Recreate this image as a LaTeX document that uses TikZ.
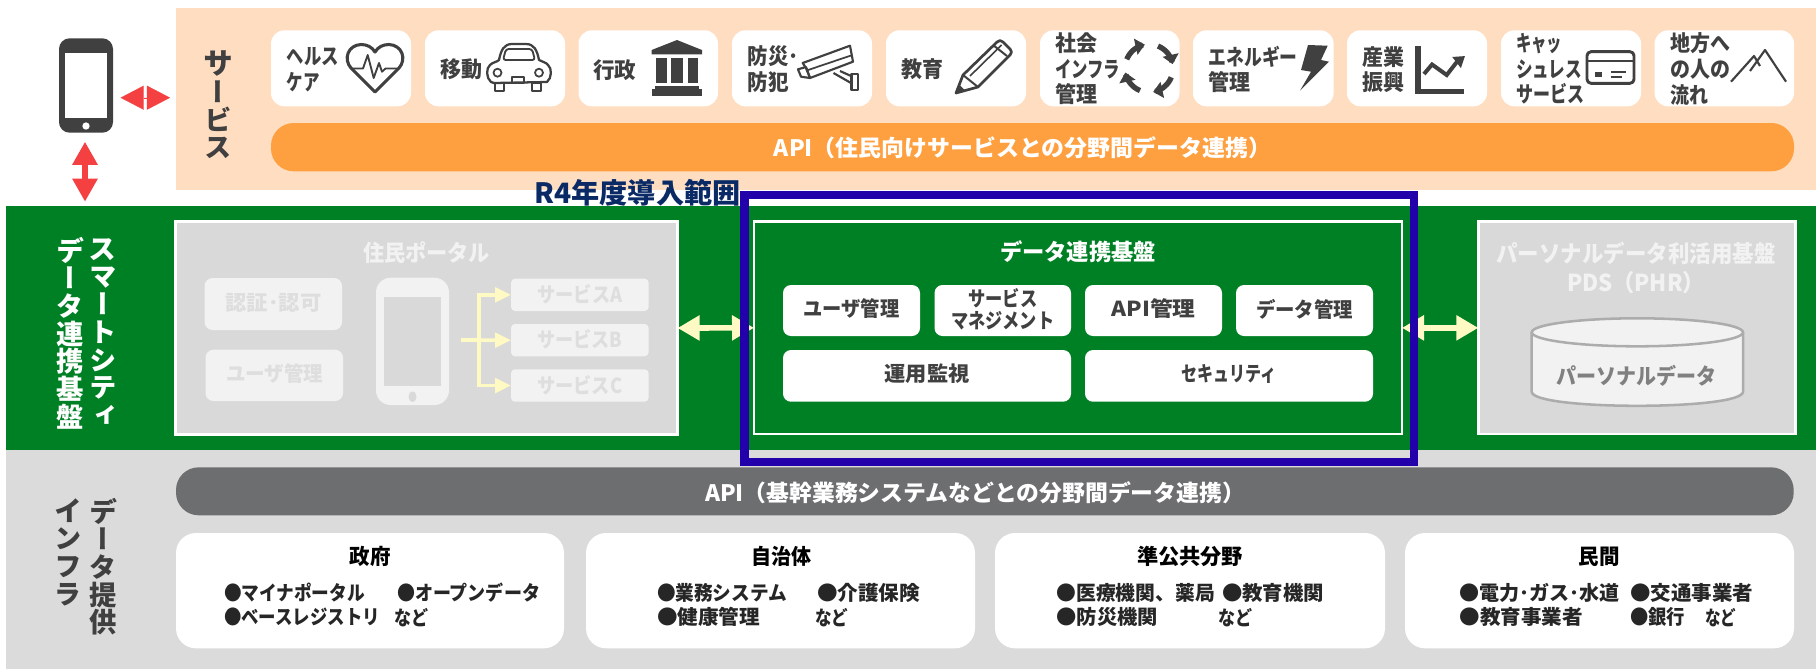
\documentclass[tikz,border=0pt]{standalone}
\usepackage{fontspec}
\setmainfont{Noto Sans CJK JP}
\newfontfamily\jpv{Noto Sans CJK JP}[RawFeature=+vert]
\usetikzlibrary{arrows.meta,shapes.geometric}
\newlength\px \setlength\px{0.75pt}
\newcommand\fw[2]{\resizebox{#1\px}{\height}{#2}}
% name, style, x1,y1,x2,y2, text
\newcommand\bx[7]{\node[#2,minimum width={(#5-#3)*0.75pt},minimum height={(#6-#4)*0.75pt}] (#1) at ({(#3+#5)/2},{(#4+#6)/2}) {#7};}
\newcommand\itm[5]{\node[itemt] (#1) at (#2,#3) {\fw{#4}{#5}};}
\definecolor{peach}{HTML}{FFDDC1}
\definecolor{orangebar}{HTML}{FFA040}
\definecolor{dgreen}{HTML}{008024}
\definecolor{gpanel}{HTML}{D9D9D9}
\definecolor{gband}{HTML}{DBDBDB}
\definecolor{gbar}{HTML}{6D6E70}
\definecolor{frameblue}{HTML}{2200AA}
\definecolor{navy}{HTML}{0A2A66}
\definecolor{redarrow}{HTML}{F44040}
\definecolor{ylw}{HTML}{FFF9C4}
\definecolor{ink}{HTML}{404040}
\definecolor{pale}{HTML}{F2F2F2}
\definecolor{paletxt}{HTML}{DEDEDE}
\tikzset{
  base/.style={inner sep=0pt,outer sep=0pt},
  band/.style={base,fill=#1},
  card/.style={base,fill=white,rounded corners=10pt},
  pillbar/.style={base,fill=#1,rounded corners=17pt},
  lowcard/.style={base,fill=white,rounded corners=15pt},
  midbox/.style={base,fill=white,rounded corners=6pt},
  panel/.style={base,fill=gpanel,draw=white,line width=1.9pt},
  palebox/.style={base,fill=pale,rounded corners=#1},
  cardt/.style={base,anchor=west,align=left,text=ink,font=\fontsize{16.5}{19.2}\selectfont\bfseries},
  midt/.style={align=center,text=ink,font=\fontsize{15.5}{16.5}\selectfont\bfseries},
  palet/.style={text=paletxt,font=\fontsize{15.5}{17}\selectfont\bfseries},
  itemt/.style={base,anchor=west,text=black!85,font=\fontsize{15}{16}\selectfont\bfseries},
  lowt/.style={text=black,font=\fontsize{16}{18}\selectfont\bfseries},
  titlew/.style={align=center,text=#1,font=\fontsize{17}{22}\selectfont\bfseries},
  vtext/.style={base,align=center,text=#1,font=\fontsize{20.5}{20.8}\jpv\selectfont\bfseries},
  icon/.style={draw=ink,line width=2.2pt,line join=round,fill=none},
  iconf/.style={fill=ink,draw=none},
  redarr/.style={draw=redarrow,fill=redarrow,{Triangle[length=17.3pt,width=18pt]}-{Triangle[length=17.3pt,width=18pt]}},
  yarr/.style={draw=ylw,fill=ylw,line width=4.2pt,{Triangle[length=16.5pt,width=18pt]}-{Triangle[length=16.5pt,width=18pt]}},
  ybranch/.style={draw=ylw,line width=2.6pt,-{Triangle[length=12pt,width=11pt]}},
  bartxt/.style={base,text=white,font=\fontsize{17}{18}\selectfont\bfseries},
}
\begin{document}
\begin{tikzpicture}[x=0.75pt,y=-0.75pt]
\useasboundingbox (0,0) rectangle (1816,669);
% bands
\bx{svcband}{band=peach}{176}{8}{1816}{190}{}
\bx{greenband}{band=dgreen}{6}{206}{1816}{450}{}
\bx{infraband}{band=gband}{6}{450}{1816}{669}{}
% vertical titles
\node[vtext=ink] (vsvc) at (218,105) {\fontsize{22.5}{29.2}\selectfont サ\\ー\\ビ\\ス};
\node[vtext=white] (vsmart) at (102.8,332) {\fontsize{21}{20.4}\selectfont ス\\マ\\ー\\ト\\シ\\テ\\ィ};
\node[vtext=white] (vdata) at (70,333) {\fontsize{21}{20.8}\selectfont デ\\ー\\タ\\連\\携\\基\\盤};
\node[vtext=ink] (vprov) at (103,566.7) {\fontsize{21}{21}\selectfont デ\\ー\\タ\\提\\供};
\node[vtext=ink] (vinfra) at (68,552) {\fontsize{21}{21}\selectfont イ\\ン\\フ\\ラ};
% phone
\bx{phone}{base,fill=ink,rounded corners=8pt}{59}{38.3}{113}{132.7}{}
\bx{phonescr}{base,fill=white}{65}{52.7}{107}{117.7}{}
\node[base,fill=white,circle,minimum size=5.5pt] (phonebtn) at (86,126) {};
\coordinate (rh1) at (120.6,97.7);
\coordinate (rh2) at (170,97.7);
\coordinate (rv1) at (85,141.7);
\coordinate (rv2) at (85,201.7);
\draw[redarr,line width=0.1pt] (rh1) -- (rh2);
\draw[redarr,line width=5.2pt,{Triangle[length=17.3pt,width=18pt]}-{Triangle[length=17.3pt,width=18pt]}] (rv1) -- (rv2);
% service cards
\bx{c1}{card}{271}{30.3}{411}{106.3}{}
\bx{c2}{card}{425}{30.3}{565}{106.3}{}
\bx{c3}{card}{578.5}{30.3}{718}{106.3}{}
\bx{c4}{card}{732}{30.3}{872}{106.3}{}
\bx{c5}{card}{886}{30.3}{1026}{106.3}{}
\bx{c6}{card}{1040}{30.3}{1179.5}{106.3}{}
\bx{c7}{card}{1193}{30.3}{1333.6}{106.3}{}
\bx{c8}{card}{1347}{30.3}{1487}{106.3}{}
\bx{c9}{card}{1501}{30.3}{1641}{106.3}{}
\bx{c10}{card}{1654.6}{30.3}{1794}{106.3}{}
\node[cardt] (t1) at (286.7,69.5) {\fw{52}{ヘルス}\\\fw{33}{ケア}};
\node[cardt] (t2) at (440,69) {\fw{42}{移動}};
\node[cardt] (t3) at (593,70) {\fw{43}{行政}};
\node[cardt] (t4) at (747.7,69) {\fw{51}{防災･}\\\fw{41}{防犯}};
\node[cardt] (t5) at (901.5,69) {\fw{42}{教育}};
\node[cardt] (t6) at (1055,69) {\fw{42}{社会}\\\fw{65}{インフラ}\\\fw{42}{管理}};
\node[cardt] (t7) at (1208.6,69.5) {\fw{89}{エネルギー}\\\fw{42}{管理}};
\node[cardt] (t8) at (1362,69.5) {\fw{42}{産業}\\\fw{42}{振興}};
\node[cardt] (t9) at (1516,69) {\fw{46}{キャッ}\\\fw{66}{シュレス}\\\fw{68}{サービス}};
\node[cardt] (t10) at (1670,69) {\fw{60}{地方へ}\\\fw{60}{の人の}\\\fw{38}{流れ}};
% heart
\draw[icon,line width=2.3pt] (375,92) -- (351,68) .. controls (343,59) and (348,45) .. (361,44.5) .. controls (367,44.5) and (372,47) .. (375,52) .. controls (378,47) and (383,44.5) .. (389,44.5) .. controls (402,45) and (407,59) .. (399,68) -- cycle;
\draw[icon,line width=1.4pt] (351,68.5) -- (363,68.5) -- (367.7,55) -- (373.7,78) -- (379,63) -- (382,71.7) -- (385.5,68.5) -- (399,68.5);
% car
\draw[icon,line width=1.7pt] (494,83) -- (491,82) .. controls (486,78) and (486,68) .. (490,65) .. controls (493,62) and (497,62) .. (499,60) .. controls (501,50) and (504,44) .. (512,44) -- (526,44) .. controls (534,44) and (537,50) .. (539,60) .. controls (542,62) and (546,62) .. (548,65) .. controls (552,68) and (552,78) .. (547,82) -- cycle;
\draw[icon,line width=1.4pt,rounded corners=2pt] (503,60) -- (506,49) -- (532,49) -- (535,60) -- cycle;
\draw[icon,line width=1.3pt] (497.5,72.7) circle[radius=3pt];
\draw[icon,line width=1.3pt] (539,72.7) circle[radius=3pt];
\draw[icon,line width=1.3pt] (512,77) rectangle (524,82.7);
\draw[icon,line width=1.5pt] (495,83) rectangle (504,90.7);
\draw[icon,line width=1.5pt] (532,83) rectangle (541,90.7);
% bank
\fill[iconf] (677,40) -- (702,50) -- (702,54.3) -- (651.6,54.3) -- (651.6,50) -- cycle;
\fill[iconf] (655.6,58) rectangle (666.7,83);
\fill[iconf] (671.4,58) rectangle (683,83);
\fill[iconf] (688,58) rectangle (698.3,83);
\fill[iconf] (655,85.5) rectangle (699,88.5);
\fill[iconf] (651.6,89) rectangle (702,95.7);
% camera
\draw[icon,line width=1.6pt] (802.7,63) -- (850,45.7) -- (853,61.7) -- (810,78) -- (806,68) -- cycle;
\draw[icon,line width=1.3pt] (806,70.7) -- (851,55.5);
\draw[icon,line width=1.6pt] (798,69.3) -- (806,67) -- (810,78) -- (801,76.7) -- cycle;
\draw[icon,line width=1.6pt] (833.5,73) -- (851,83) (840,71) -- (851,76);
\draw[icon,line width=1.6pt] (851.5,74) rectangle (858.4,90);
% pencil
\draw[icon,line width=2pt] (963,75) -- (997,42) .. controls (999,40) and (1001,40) .. (1003,42) -- (1010,49) .. controls (1012,51) and (1012,53) .. (1010,55) -- (978,87) -- (956,93) -- cycle;
\draw[icon,line width=1.2pt] (970,76) -- (1001.6,45);
\draw[icon,line width=1.5pt] (993,45) -- (1007,56);
\draw[icon,line width=1.5pt] (963,75) -- (978,87);
\fill[iconf] (956,93) -- (958.5,84) -- (965,90.5) -- cycle;
% recycle
\foreach \a/\b in {158/100,68/10,-22/-80,-112/-170}{
  \draw[draw=ink,line width=4pt,-{Triangle[length=7pt,width=12pt]}] plot[domain=\a:\b,samples=12] ({1149+24*cos(\x)},{68.3-24*sin(\x)});
}
% bolt
\fill[iconf] (1308,45) -- (1327.7,45.7) -- (1321,60) -- (1329,61.7) -- (1300,90.7) -- (1311,71.7) -- (1301,70) -- cycle;
% chart
\fill[iconf] (1415,45.7) rectangle (1421,94);
\fill[iconf] (1415,89) rectangle (1464,94);
\draw[draw=ink,line width=3pt,line join=miter,-{Triangle[length=8pt,width=10pt]}] (1424,74) -- (1432,64.5) -- (1446.7,75) -- (1456,63) -- (1465,56);
% credit card
\draw[icon,line width=2.2pt,rounded corners=3pt] (1587,51.7) rectangle (1634,83.3);
\draw[icon,line width=2pt] (1587,61) -- (1634,61);
\fill[iconf] (1595,71.7) rectangle (1601.6,77.3);
\draw[icon,line width=1.5pt] (1610.6,71.7) -- (1626,71.7) (1610.6,77.2) -- (1622,77.2);
% mountains
\draw[icon,line width=1.6pt] (1731,81.7) -- (1754,56) -- (1760,66);
\draw[icon,line width=1.6pt] (1750,71) -- (1765,50) -- (1786,81.7);
% orange bar
\bx{orangeb}{pillbar=orangebar}{271}{123}{1794}{171.3}{}
\node[bartxt] (orangetxt) at (1022.5,148) {\fw{497}{API（住民向けサービスとの分野間データ連携）}};
% portal
\bx{portal}{panel}{175.5}{221.7}{677.6}{434.3}{}
\node[base,text=pale,font=\fontsize{17}{18}\selectfont\bfseries] (portalt) at (426.6,253) {\fw{127}{住民ポータル}};
\bx{auth}{palebox=6pt}{204.6}{278}{342}{330}{}
\node[palet] (autht) at (273.5,302.5) {\fw{96}{認証･認可}};
\bx{usr}{palebox=6pt}{205.5}{349.7}{343}{401}{}
\node[palet] (usrt) at (274.5,374) {\fw{97}{ユーザ管理}};
\bx{pphone}{palebox=11pt}{376}{277.7}{449}{405}{}
\bx{pphonescr}{base,fill=gpanel}{384.4}{297}{440.6}{385.7}{}
\node[base,fill=gpanel,ellipse,minimum width=6pt,minimum height=8pt] (pphonebtn) at (412.5,396.7) {};
\bx{svA}{palebox=3pt}{511}{278.7}{648.6}{311}{}
\bx{svB}{palebox=3pt}{511}{324}{648.6}{356.3}{}
\bx{svC}{palebox=3pt}{511}{369.3}{648.6}{401.7}{}
\node[palet] (svAt) at (579.8,294) {\fw{85}{サービスA}};
\node[palet] (svBt) at (579.8,339.5) {\fw{85}{サービスB}};
\node[palet] (svCt) at (579.8,385) {\fw{85}{サービスC}};
\coordinate (s0) at (461,340.2);
\coordinate (s1) at (479,340.2);
\draw[draw=ylw,line width=2.6pt] (s0) -- (s1);
\draw[ybranch] (s1) -- (svB.west);
\draw[ybranch] (s1) |- (svA.west);
\draw[ybranch] (s1) |- (svC.west);
% central platform
\bx{inner}{base,draw=white,line width=1.9pt}{754}{221.7}{1402}{434}{}
\node[titlew=white] (innert) at (1078,252) {\fw{156}{データ連携基盤}};
\bx{m1}{midbox}{783}{285}{920}{336}{}
\bx{m2}{midbox}{934.5}{285}{1071}{336}{}
\bx{m3}{midbox}{1085}{285}{1222}{336}{}
\bx{m4}{midbox}{1236}{285}{1373}{336}{}
\bx{m5}{midbox}{783}{350}{1071}{401.7}{}
\bx{m6}{midbox}{1085}{350}{1373}{401.7}{}
\node[midt] (m1t) at (851.5,309) {\fw{96}{ユーザ管理}};
\node[midt] (m2t) at (1002.8,309) {\fw{69}{サービス}\\\fw{103}{マネジメント}};
\node[midt] (m3t) at (1153.5,309) {\fw{84}{API管理}};
\node[midt] (m4t) at (1304.5,309) {\fw{97}{データ管理}};
\node[midt] (m5t) at (927,374) {\fw{85}{運用監視}};
\node[midt] (m6t) at (1229,374) {\fw{95}{セキュリティ}};
% PDS
\bx{pds}{panel}{1478.3}{221.7}{1795.7}{434}{}
\node[titlew=pale,font=\fontsize{17.5}{21.8}\selectfont\bfseries] (pdst) at (1636,267.5) {\fw{279}{パーソナルデータ利活用基盤}\\\fw{138}{PDS（PHR）}};
\draw[draw=gray!50!gpanel,fill=pale,line width=1.9pt] (1531.7,332.3) -- (1531.7,391.7) .. controls (1531.7,410.5) and (1743,410.5) .. (1743,391.7) -- (1743,332.3);
\draw[draw=gray!50!gpanel,fill=pale,line width=1.9pt] (1637.35,332.3) ellipse[x radius=79.2pt,y radius=10.5pt];
\node[base,text=black!50,font=\fontsize{16.5}{18}\selectfont\bfseries] (pdsdt) at (1636.7,375.7) {\fw{160}{パーソナルデータ}};
% connectors
\draw[yarr] (portal.east) -- (inner.west);
\draw[yarr] (inner.east) -- (pds.west);
% scope frame
\bx{scope}{base,draw=frameblue,line width=6.4pt}{744.5}{195}{1414}{462}{}
\node[base,anchor=west,text=navy,font=\fontsize{21}{24}\selectfont\bfseries] (r4) at (534.6,193) {\fw{206}{R4年度導入範囲}};
% gray bar
\bx{grayb}{pillbar=gbar}{176}{467.3}{1793.7}{515.3}{}
\node[bartxt] (graytxt) at (975,492.7) {\fw{540}{API（基幹業務システムなどとの分野間データ連携）}};
% lower cards
\bx{l1}{lowcard}{176}{533}{564}{648.3}{}
\bx{l2}{lowcard}{586}{533}{975}{648.3}{}
\bx{l3}{lowcard}{995}{533}{1385}{648.3}{}
\bx{l4}{lowcard}{1405}{533}{1794}{648.3}{}
\node[lowt] (l1t) at (370,556.7) {\fw{41}{政府}};
\node[lowt] (l2t) at (781,556.7) {\fw{60}{自治体}};
\node[lowt] (l3t) at (1190,556.7) {\fw{106}{準公共分野}};
\node[lowt] (l4t) at (1599,556.7) {\fw{41}{民間}};
\itm{a1}{224}{592.7}{141}{●マイナポータル}
\itm{a2}{397}{592.7}{143}{●オープンデータ}
\itm{a3}{224}{617.3}{156}{●ベースレジストリ}
\itm{a4}{394}{617.3}{34}{など}
\itm{b1}{657}{592.7}{130}{●業務システム}
\itm{b2}{817}{592.7}{103}{●介護保険}
\itm{b3}{657}{617.3}{103}{●健康管理}
\itm{b4}{815}{617.3}{33}{など}
\itm{c1a}{1056.5}{592.7}{158.5}{●医療機関、薬局}
\itm{c2a}{1222}{592.7}{102}{●教育機関}
\itm{c3a}{1056.5}{617.3}{101.5}{●防災機関}
\itm{c4a}{1218}{617.3}{34}{など}
\itm{d1}{1459.6}{592.7}{160.4}{●電力･ガス･水道}
\itm{d2}{1630}{592.7}{123}{●交通事業者}
\itm{d3}{1459.6}{617.3}{123.4}{●教育事業者}
\itm{d4}{1630}{617.3}{55}{●銀行}
\itm{d5}{1705}{617.3}{31}{など}
\end{tikzpicture}
\end{document}
